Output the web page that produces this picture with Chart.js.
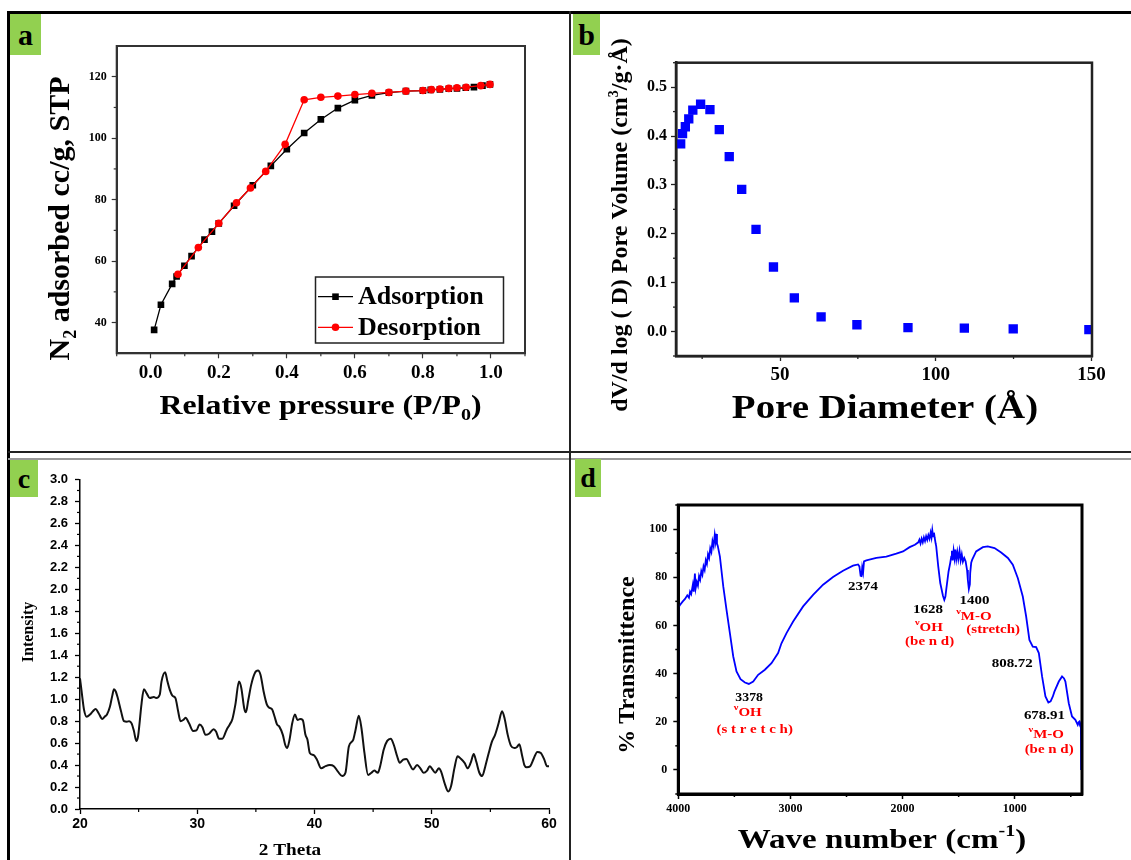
<!DOCTYPE html>
<html>
<head>
<meta charset="utf-8">
<script src="https://cdn.jsdelivr.net/npm/chart.js@4.4.1/dist/chart.umd.min.js"></script>
<style>
  body { margin: 0; background: #fff; }
  #page { position: relative; width: 1131px; height: 860px; overflow: hidden; background: #fff; }
  #page canvas { position: absolute; left: 0; top: 0; }
  .rule { position: absolute; }
  .tag { position: absolute; background: #92d050; color: #000; display: flex; align-items: center; justify-content: center;
         font: bold 30px "Liberation Serif", "Times New Roman", serif; }
</style>
</head>
<body>
<div id="page">
  <canvas id="isoChart" width="1131" height="860"></canvas>
  <canvas id="poreChart" width="1131" height="860"></canvas>
  <canvas id="xrdChart" width="1131" height="860"></canvas>
  <canvas id="ftirChart" width="1131" height="860"></canvas>

  <div class="rule" style="left:7px;top:11px;width:1124px;height:3px;background:#000"></div>
  <div class="rule" style="left:7px;top:11px;width:3px;height:849px;background:#000"></div>
  <div class="rule" style="left:8px;top:451px;width:1123px;height:2px;background:#222"></div>
  <div class="rule" style="left:8px;top:458px;width:1123px;height:1.5px;background:#999"></div>
  <div class="rule" style="left:569px;top:11px;width:2px;height:849px;background:#222"></div>

  <div class="tag" style="left:10px;top:14px;width:31px;height:41px">a</div>
  <div class="tag" style="left:573px;top:14px;width:27px;height:41px">b</div>
  <div class="tag" style="left:10px;top:460px;width:28px;height:37px;font-size:28px">c</div>
  <div class="tag" style="left:575px;top:459px;width:26px;height:38px;font-size:28px">d</div>
</div>

<script>
// (a) N2 adsorption / desorption isotherm
const adsP = [0.010, 0.030, 0.063, 0.076, 0.099, 0.120, 0.158, 0.180, 0.200, 0.245, 0.300, 0.353, 0.400, 0.451, 0.500,
  0.550, 0.600, 0.650, 0.700, 0.750, 0.800, 0.823, 0.850, 0.876, 0.900, 0.926, 0.950, 0.975, 0.997];
const adsV = [37.6, 45.8, 52.6, 55.0, 58.5, 61.6, 67.0, 69.6, 72.3, 78.0, 84.7, 91.0, 96.4, 101.7, 106.1,
  109.8, 112.4, 113.9, 114.8, 115.3, 115.5, 115.7, 115.9, 116.1, 116.2, 116.4, 116.6, 117.1, 117.5];
const desP = [0.080, 0.140, 0.200, 0.252, 0.293, 0.338, 0.395, 0.451, 0.500, 0.550, 0.600, 0.650, 0.700, 0.750,
  0.800, 0.825, 0.850, 0.876, 0.900, 0.927, 0.970, 0.997];
const desV = [55.7, 64.4, 72.3, 79.0, 83.8, 89.2, 98.0, 112.5, 113.3, 113.7, 114.2, 114.6, 114.9, 115.3,
  115.5, 115.8, 116.0, 116.2, 116.4, 116.6, 117.1, 117.5];
const isoXTicks = [0, 0.2, 0.4, 0.6, 0.8, 1.0];
const isoYTicks = [40, 60, 80, 100, 120];

// (b) pore size distribution
const poreD = [18.1, 18.7, 19.6, 20.7, 22.0, 24.5, 27.5, 30.5, 33.7, 37.7, 42.3, 47.9, 54.6, 63.2, 74.7, 91.1, 109.2, 124.9, 149.2];
const poreV = [0.384, 0.405, 0.419, 0.435, 0.453, 0.465, 0.454, 0.413, 0.358, 0.291, 0.209, 0.132, 0.069, 0.030, 0.014,
  0.008, 0.007, 0.0055, 0.004];
const poreXTicks = [50, 100, 150];
const poreYTicks = [0, 0.1, 0.2, 0.3, 0.4, 0.5];

// (c) XRD pattern
const xrdTheta = [20.0, 20.15, 20.35, 20.57, 20.85, 21.1, 21.33, 21.6, 21.9, 22.1, 22.3, 22.55, 22.75, 22.9, 23.05, 23.2,
  23.5, 23.75, 24.0, 24.2, 24.4, 24.6, 24.8, 24.95, 25.05, 25.25, 25.45, 25.7, 25.95, 26.3, 26.5, 26.8, 26.95, 27.26,
  27.46, 27.66, 27.9, 28.14, 28.37, 28.57, 28.8, 29.0, 29.3, 29.65, 29.93, 30.2, 30.44, 30.7, 31.0, 31.4, 31.6, 31.86,
  32.14, 32.5, 32.77, 33.0, 33.25, 33.56, 33.76, 34.0, 34.15, 34.35, 34.6, 34.9, 35.18, 35.4, 35.66, 35.94, 36.17,
  36.37, 36.6, 36.8, 37.0, 37.3, 37.5, 37.67, 37.87, 38.1, 38.33, 38.55, 38.78, 39.0, 39.23, 39.4, 39.6, 39.94, 40.2,
  40.57, 40.94, 41.3, 41.65, 42.0, 42.36, 42.64, 42.93, 43.3, 43.5, 43.78, 44.0, 44.26, 44.57, 44.86, 45.1, 45.4,
  45.6, 45.9, 46.2, 46.5, 46.76, 47.05, 47.27, 47.56, 47.84, 48.1, 48.4, 48.75, 49.03, 49.3, 49.6, 49.83, 50.06,
  50.3, 50.6, 50.8, 51.08, 51.4, 51.65, 51.93, 52.2, 52.5, 52.8, 53.07, 53.35, 53.58, 53.8, 54.06, 54.3, 54.57,
  54.86, 55.14, 55.4, 55.7, 56.0, 56.2, 56.48, 56.76, 57.05, 57.27, 57.47, 57.7, 57.9, 58.1, 58.4, 58.7, 59.0,
  59.3, 59.6, 59.83, 60.0];
const xrdI = [1.19, 1.06, 0.90, 0.84, 0.86, 0.89, 0.91, 0.87, 0.82, 0.84, 0.86, 0.93, 1.03, 1.09, 1.07, 1.02,
  0.89, 0.80, 0.795, 0.80, 0.78, 0.71, 0.62, 0.66, 0.75, 0.96, 1.09, 1.05, 1.01, 1.02, 1.01, 1.04, 1.16, 1.245,
  1.16, 1.085, 1.03, 1.01, 0.89, 0.80, 0.81, 0.83, 0.78, 0.71, 0.715, 0.77, 0.745, 0.675, 0.685, 0.727, 0.706, 0.64,
  0.64, 0.72, 0.77, 0.82, 0.95, 1.16, 1.10, 0.92, 0.88, 0.99, 1.13, 1.235, 1.26, 1.22, 1.07, 0.95, 0.92,
  0.91, 0.84, 0.77, 0.75, 0.675, 0.585, 0.555, 0.63, 0.78, 0.86, 0.81, 0.82, 0.81, 0.675, 0.63, 0.51, 0.49, 0.45,
  0.37, 0.39, 0.40, 0.39, 0.34, 0.30, 0.33, 0.57, 0.63, 0.72, 0.85, 0.74, 0.51, 0.31, 0.33, 0.35, 0.33,
  0.39, 0.54, 0.62, 0.64, 0.585, 0.48, 0.42, 0.45, 0.455, 0.41, 0.36, 0.40, 0.37, 0.33, 0.35, 0.39, 0.36,
  0.33, 0.37, 0.34, 0.24, 0.16, 0.21, 0.37, 0.48, 0.455, 0.42, 0.37, 0.43, 0.50, 0.43, 0.33, 0.30, 0.39,
  0.51, 0.615, 0.675, 0.78, 0.89, 0.83, 0.675, 0.575, 0.555, 0.565, 0.59, 0.49, 0.40, 0.38, 0.39, 0.46, 0.52,
  0.51, 0.45, 0.39, 0.39];
const xrdXTicks = [20, 30, 40, 50, 60];
const xrdYTicks = [0, 0.2, 0.4, 0.6, 0.8, 1.0, 1.2, 1.4, 1.6, 1.8, 2.0, 2.2, 2.4, 2.6, 2.8, 3.0];

// (d) FTIR spectrum
const ftirWn = [4000, 3998, 3985, 3960, 3940, 3920, 3905, 3895, 3885, 3870, 3862, 3852, 3845, 3835, 3825, 3815, 3805,
  3795, 3785, 3775, 3765, 3755, 3745, 3735, 3725, 3715, 3705, 3695, 3685, 3675, 3668, 3662, 3655, 3648, 3629, 3599,
  3570, 3540, 3510, 3481, 3445, 3406, 3371, 3332, 3288, 3228, 3169, 3110, 3080, 3035, 2976, 2887, 2798, 2709, 2620,
  2531, 2442, 2397, 2385, 2374, 2366, 2360, 2352, 2344, 2323, 2234, 2145, 2056, 1996, 1937, 1890, 1860, 1850, 1840,
  1830, 1820, 1810, 1800, 1790, 1780, 1770, 1760, 1750, 1742, 1735, 1728, 1720, 1714, 1705, 1700, 1682, 1664, 1640,
  1628, 1618, 1611, 1590, 1575, 1566, 1560, 1553, 1545, 1537, 1530, 1521, 1512, 1503, 1492, 1482, 1472, 1462, 1450,
  1438, 1425, 1418, 1409, 1400, 1397, 1388, 1379, 1344, 1284, 1240, 1180, 1121, 1061, 1017, 972, 928, 898, 869, 839,
  809, 785, 756, 726, 700, 680, 660, 646, 607, 578, 560, 548, 518, 489, 459, 438, 430, 423, 418, 414, 410, 408];
const ftirT = [0, 67.5, 68.5, 70, 71, 72.5, 71.5, 74, 73, 77, 74, 81.5, 75.5, 78, 76.5, 80.5, 79,
  82.5, 81, 84.5, 83, 87, 85.5, 89.5, 88, 92, 90.5, 95, 93, 97.5, 95, 98, 94, 93, 88.6, 76.2,
  66.5, 56.8, 47.1, 40.9, 37.7, 36.3, 35.7, 36.7, 39.5, 41.6, 44.3, 48.5, 52.6, 56.8, 61.6, 67.9, 72.7, 76.9, 80.1,
  82.7, 84.8, 85.3, 84.5, 80.6, 80.5, 84, 82, 86.6, 87, 88, 88.6, 89.8, 90.7, 92.5, 93.5, 94.5, 95.6, 94,
  96, 94.5, 96.5, 95, 97, 95.5, 97.5, 96, 98.5, 96.5, 99.5, 97, 98.5, 96.5, 94, 92.8, 84.5, 77.6, 72.3,
  70.6, 72, 74.8, 82.4, 86, 88.6, 91, 87, 91, 88, 91.5, 87.5, 90.5, 87.5, 91, 87, 89.5, 86.5, 88,
  86.6, 83, 78.9, 75.1, 77, 81.7, 86, 87.3, 90.7, 92.5, 92.8, 92.1, 90.3, 88, 85.2, 79.6, 72, 63.7, 54, 51.2,
  51, 48.5, 38.8, 30.5, 28, 28.5, 30.5, 32.5, 36.7, 38.8, 38, 36.7, 27.7, 22.2, 20.8, 18.7, 19.8, 20.1, 18.5, 18, 19.5, 0];
const ftirXTicks = [4000, 3000, 2000, 1000];
const ftirYTicks = [0, 20, 40, 60, 80, 100];

const RED = '#ff0000';
const SERIF = '"Liberation Serif", "Times New Roman", serif';
const SANS = '"Liberation Sans", Arial, sans-serif';
const serif = (px) => `bold ${px}px ${SERIF}`;
const tickSerif = (px) => ({ family: SERIF, size: px, weight: 'bold' });
const tickSans = (px) => ({ family: SANS, size: px, weight: 'bold' });
const pairs = (xs, ys) => xs.map((x, i) => ({ x, y: ys[i] }));
const halfSteps = (a, b, step) => { const out = []; for (let v = a; v <= b + 1e-9; v += step) out.push(+v.toFixed(4)); return out; };

function drawParts(ctx, parts, x, y, rot, sx, base) {
  ctx.save();
  ctx.translate(x, y);
  ctx.rotate(rot);
  ctx.scale(sx, 1);
  ctx.textAlign = 'left';
  ctx.textBaseline = base;
  let w = 0;
  parts.forEach(p => { ctx.font = p.font; w += ctx.measureText(p.text).width; });
  let cx = -w / 2;
  parts.forEach(p => {
    ctx.font = p.font;
    ctx.fillStyle = p.color || '#000';
    ctx.fillText(p.text, cx, p.dy || 0);
    cx += ctx.measureText(p.text).width;
  });
  ctx.restore();
}

function textLayer(items) {
  return {
    id: 'textLayer',
    afterDraw(chart) {
      items.forEach(it => {
        let x = it.x, y = it.y;
        if (it.at) {
          x = chart.scales.x.getPixelForValue(it.at[0]);
          y = chart.scales.y.getPixelForValue(it.at[1]);
        }
        drawParts(chart.ctx, it.parts, x, y, it.rot || 0, it.sx || 1, it.base || 'alphabetic');
      });
    }
  };
}

function frame(color, width) {
  return {
    id: 'frame',
    afterDraw(chart) {
      const { left, top, right, bottom } = chart.chartArea;
      const ctx = chart.ctx;
      ctx.save();
      ctx.strokeStyle = color;
      ctx.lineWidth = width;
      ctx.strokeRect(left, top, right - left, bottom - top);
      ctx.restore();
    }
  };
}

function minorTicks(spec, len, color, width) {
  return {
    id: 'minorTicks',
    afterDraw(chart) {
      const ctx = chart.ctx;
      ctx.save();
      ctx.strokeStyle = color;
      ctx.lineWidth = width;
      Object.keys(spec).forEach(id => {
        const s = chart.scales[id];
        spec[id].forEach(v => {
          const p = s.getPixelForValue(v);
          ctx.beginPath();
          if (s.isHorizontal()) { ctx.moveTo(p, s.top); ctx.lineTo(p, s.top + len); }
          else { ctx.moveTo(s.right, p); ctx.lineTo(s.right - len, p); }
          ctx.stroke();
        });
      });
      ctx.restore();
    }
  };
}

function axis(o) {
  return {
    type: 'linear',
    position: o.pos,
    min: o.min,
    max: o.max,
    reverse: !!o.reverse,
    afterFit: s => { if (o.pos === 'left') s.width = o.size; else s.height = o.size; },
    afterBuildTicks: s => { s.ticks = o.major.map(v => ({ value: v })); },
    grid: { drawOnChartArea: false, drawTicks: true, tickLength: 5, tickColor: o.color, tickWidth: o.tickWidth },
    border: { display: true, color: o.color, width: o.lineWidth },
    ticks: { font: o.font, color: '#000', padding: o.pad, callback: o.fmt, maxRotation: 0, autoSkip: false }
  };
}

function padFor(area, yw, xh) {
  return { left: area.l - yw, top: area.t, right: 1131 - area.r, bottom: 860 - area.b - xh };
}

function baseOptions(area, yw, xh, scales) {
  return {
    responsive: false,
    animation: false,
    devicePixelRatio: 1,
    layout: { padding: padFor(area, yw, xh) },
    plugins: { legend: { display: false }, tooltip: { enabled: false } },
    scales
  };
}

// ---------- (a) ----------
const isoArea = { l: 116.7, t: 46, r: 525, b: 353.3 };
const isoLegend = {
  id: 'isoLegend',
  afterDraw(chart) {
    const ctx = chart.ctx;
    ctx.save();
    ctx.strokeStyle = '#222';
    ctx.lineWidth = 1.5;
    ctx.strokeRect(315.5, 277, 188, 66);
    const rows = [296.7, 327.3];
    chart.data.datasets.forEach((ds, i) => {
      const cy = rows[i];
      ctx.strokeStyle = ds.borderColor;
      ctx.lineWidth = 1.3;
      ctx.beginPath(); ctx.moveTo(318, cy); ctx.lineTo(353, cy); ctx.stroke();
      ctx.fillStyle = ds.backgroundColor;
      ctx.beginPath();
      if (ds.pointStyle === 'rect') ctx.rect(335.5 - 3.3, cy - 3.3, 6.6, 6.6);
      else ctx.arc(335.5, cy, 3.8, 0, Math.PI * 2);
      ctx.fill();
      ctx.fillStyle = '#000';
      ctx.font = serif(26);
      ctx.textBaseline = 'middle';
      ctx.textAlign = 'left';
      ctx.fillText(ds.label, 358, cy + 1);
    });
    ctx.restore();
  }
};

new Chart(document.getElementById('isoChart'), {
  type: 'scatter',
  data: {
    datasets: [
      { label: 'Adsorption', data: pairs(adsP, adsV), showLine: true, order: 1, borderColor: '#000', backgroundColor: '#000',
        borderWidth: 1.3, pointStyle: 'rect', pointRadius: 4.7, pointBorderWidth: 0 },
      { label: 'Desorption', data: pairs(desP, desV), showLine: true, order: 0, borderColor: RED, backgroundColor: RED,
        borderWidth: 1.3, pointStyle: 'circle', pointRadius: 3.8, pointBorderWidth: 0 }
    ]
  },
  options: baseOptions(isoArea, 60, 40, {
    x: axis({ pos: 'bottom', min: -0.1, max: 1.1, major: isoXTicks, size: 40, color: '#333', tickWidth: 1.2, lineWidth: 2,
      font: tickSerif(19), pad: 3, fmt: v => v.toFixed(1) }),
    y: axis({ pos: 'left', min: 30, max: 130, major: isoYTicks, size: 60, color: '#333', tickWidth: 1.2, lineWidth: 2,
      font: tickSerif(12), pad: 5, fmt: v => String(v) })
  }),
  plugins: [
    frame('#333', 2),
    minorTicks({ x: halfSteps(-0.1, 1.1, 0.2), y: [50, 70, 90, 110] }, 3, '#333', 1.2),
    isoLegend,
    textLayer([
      { x: 69, y: 218.5, rot: -Math.PI / 2, parts: [
        { text: 'N', font: serif(30) }, { text: '2', font: serif(18), dy: 7 }, { text: ' adsorbed cc/g, STP', font: serif(30) }] },
      { x: 320.5, y: 414, sx: 1.18, parts: [
        { text: 'Relative pressure (P/P', font: serif(27) }, { text: '0', font: serif(17), dy: 6 }, { text: ')', font: serif(27) }] }
    ])
  ]
});

// ---------- (b) ----------
const poreArea = { l: 676, t: 62.7, r: 1092, b: 356 };
new Chart(document.getElementById('poreChart'), {
  type: 'scatter',
  data: {
    datasets: [
      { label: 'Pore volume', data: pairs(poreD, poreV), backgroundColor: '#0000ff', borderColor: '#0000ff',
        pointStyle: 'rect', pointRadius: 6.6, pointBorderWidth: 0 }
    ]
  },
  options: baseOptions(poreArea, 50, 40, {
    x: axis({ pos: 'bottom', min: 16.6, max: 150.2, major: poreXTicks, size: 40, color: '#222', tickWidth: 1.3, lineWidth: 2.5,
      font: tickSerif(19), pad: 3, fmt: v => String(v) }),
    y: axis({ pos: 'left', min: -0.05, max: 0.55, major: poreYTicks, size: 50, color: '#222', tickWidth: 1.3, lineWidth: 2.5,
      font: tickSerif(16), pad: 4, fmt: v => v.toFixed(1) })
  }),
  plugins: [
    frame('#222', 2.5),
    minorTicks({ x: [25, 75, 125], y: [-0.05, 0.05, 0.15, 0.25, 0.35, 0.45, 0.55] }, 3, '#222', 1.3),
    textLayer([
      { x: 627, y: 225, rot: -Math.PI / 2, parts: [
        { text: 'dV/d log ( D) Pore Volume (cm', font: serif(24) }, { text: '3', font: serif(14), dy: -9 },
        { text: '/g·Å)', font: serif(24) }] },
      { x: 885, y: 418, sx: 1.18, parts: [{ text: 'Pore Diameter (Å)', font: serif(33) }] }
    ])
  ]
});

// ---------- (c) ----------
const xrdArea = { l: 80, t: 479.5, r: 549, b: 809 };
new Chart(document.getElementById('xrdChart'), {
  type: 'scatter',
  data: {
    datasets: [
      { label: 'XRD', data: pairs(xrdTheta, xrdI), showLine: true, borderColor: '#111', borderWidth: 2,
        pointRadius: 0, cubicInterpolationMode: 'monotone' }
    ]
  },
  options: baseOptions(xrdArea, 60, 40, {
    x: axis({ pos: 'bottom', min: 20, max: 60, major: xrdXTicks, size: 40, color: '#000', tickWidth: 1.3, lineWidth: 1.5,
      font: tickSans(14), pad: 2, fmt: v => String(v) }),
    y: axis({ pos: 'left', min: 0, max: 3, major: xrdYTicks, size: 60, color: '#000', tickWidth: 1.3, lineWidth: 1.5,
      font: tickSans(13), pad: 7, fmt: v => v.toFixed(1) })
  }),
  plugins: [
    minorTicks({ x: [25, 35, 45, 55], y: halfSteps(0.1, 2.9, 0.2) }, 3, '#000', 1.2),
    textLayer([
      { x: 33, y: 632, rot: -Math.PI / 2, parts: [{ text: 'Intensity', font: serif(16) }] },
      { x: 290, y: 855, sx: 1.2, parts: [{ text: '2 Theta', font: serif(16) }] }
    ])
  ]
});

// ---------- (d) ----------
const ftirArea = { l: 678.3, t: 505, r: 1082, b: 794 };
const nu = (sub) => [{ text: 'ν', font: serif(9), color: RED, dy: -5 }, { text: sub, font: serif(13), color: RED }];
const note = (txt, px, color) => [{ text: txt, font: serif(px), color: color || '#000' }];
new Chart(document.getElementById('ftirChart'), {
  type: 'scatter',
  data: {
    datasets: [
      { label: 'FTIR', data: pairs(ftirWn, ftirT), showLine: true, borderColor: '#0000ff', borderWidth: 1.8,
        pointRadius: 0, tension: 0 }
    ]
  },
  options: baseOptions(ftirArea, 50, 30, {
    x: axis({ pos: 'bottom', min: 400, max: 4000, reverse: true, major: ftirXTicks, size: 30, color: '#000', tickWidth: 1.5,
      lineWidth: 3, font: tickSerif(12), pad: 3, fmt: v => String(v) }),
    y: axis({ pos: 'left', min: -10, max: 110, major: ftirYTicks, size: 50, color: '#000', tickWidth: 1.5, lineWidth: 3,
      font: tickSerif(12), pad: 6, fmt: v => String(v) })
  }),
  plugins: [
    frame('#000', 3),
    minorTicks({ x: [3500, 2500, 1500, 500], y: [-10, 10, 30, 50, 70, 90, 110] }, 3, '#000', 1.5),
    textLayer([
      { x: 634, y: 665, rot: -Math.PI / 2, parts: [{ text: '% Transmittence', font: serif(24) }] },
      { x: 882, y: 848, sx: 1.18, parts: [
        { text: 'Wave number (cm', font: serif(28) }, { text: '-1', font: serif(17), dy: -12 }, { text: ')', font: serif(28) }] },
      { at: [3368, 29.9], base: 'middle', sx: 1.15, parts: note('3378', 12) },
      { at: [3381, 23.7], base: 'middle', sx: 1.15, parts: nu('OH') },
      { at: [3319, 16.6], base: 'middle', sx: 1.15, parts: note('(s t r e t c h)', 13, RED) },
      { at: [2353, 75.9], base: 'middle', sx: 1.15, parts: note('2374', 13) },
      { at: [1774, 66.5], base: 'middle', sx: 1.15, parts: note('1628', 13) },
      { at: [1765, 59.0], base: 'middle', sx: 1.15, parts: nu('OH') },
      { at: [1759, 53.3], base: 'middle', sx: 1.15, parts: note('(be n d)', 13, RED) },
      { at: [1358, 70.2], base: 'middle', sx: 1.15, parts: note('1400', 13) },
      { at: [1364, 63.7], base: 'middle', sx: 1.15, parts: nu('M-O') },
      { at: [1192, 58.4], base: 'middle', sx: 1.15, parts: note('(stretch)', 13, RED) },
      { at: [1022, 44.3], base: 'middle', sx: 1.15, parts: note('808.72', 13) },
      { at: [735, 22.4], base: 'middle', sx: 1.15, parts: note('678.91', 13) },
      { at: [719, 14.5], base: 'middle', sx: 1.15, parts: nu('M-O') },
      { at: [693, 8.6], base: 'middle', sx: 1.15, parts: note('(be n d)', 13, RED) }
    ])
  ]
});
</script>
</body>
</html>
